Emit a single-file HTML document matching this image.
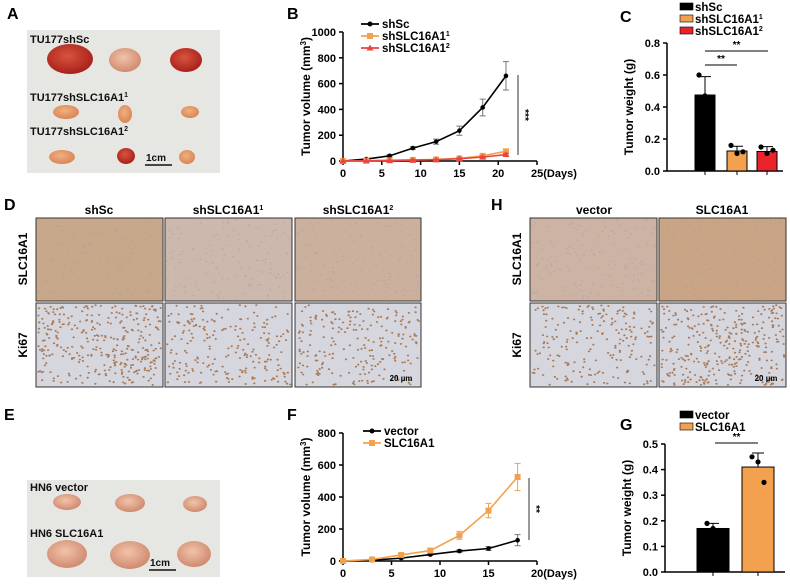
<!DOCTYPE html>
<html><head><meta charset="utf-8"><style>
body{margin:0;background:#fff}
svg{display:block;font-family:"Liberation Sans",Arial,sans-serif;font-weight:bold}
</style></head><body>
<svg id="fig" width="790" height="585" viewBox="0 0 790 585" xmlns="http://www.w3.org/2000/svg">
<defs>
<radialGradient id="tRed" cx="45%" cy="40%" r="60%"><stop offset="0" stop-color="#d8553f"/><stop offset="1" stop-color="#a8201a"/></radialGradient>
<radialGradient id="tOr" cx="45%" cy="40%" r="60%"><stop offset="0" stop-color="#f0b080"/><stop offset="1" stop-color="#d98556"/></radialGradient>
<radialGradient id="tPk" cx="45%" cy="40%" r="60%"><stop offset="0" stop-color="#f2c4a8"/><stop offset="1" stop-color="#cf8a70"/></radialGradient>
</defs>
<g id="labels" font-size="16">
<text x="7" y="19">A</text>
<text x="287" y="19">B</text>
<text x="620" y="22">C</text>
<text x="4" y="210">D</text>
<text x="491" y="210">H</text>
<text x="4" y="420">E</text>
<text x="287" y="420">F</text>
<text x="620" y="430">G</text>
</g>
<g id="photoA">
<rect x="27" y="30" width="193" height="143" fill="#e6e6e3"/>
<ellipse cx="70" cy="59" rx="23" ry="15" fill="url(#tRed)"/>
<ellipse cx="125" cy="60" rx="16" ry="12" fill="url(#tPk)"/>
<ellipse cx="186" cy="60" rx="16" ry="12" fill="url(#tRed)"/>
<text x="30" y="43" font-size="11" fill="#111">TU177shSc</text>
<ellipse cx="66" cy="112" rx="13" ry="7" fill="url(#tOr)"/>
<ellipse cx="125" cy="114" rx="7" ry="9" fill="url(#tOr)"/>
<ellipse cx="190" cy="112" rx="9" ry="6" fill="url(#tOr)"/>
<text x="30" y="101" font-size="11" fill="#111">TU177shSLC16A1<tspan font-size="7" dy="-4">1</tspan></text>
<ellipse cx="62" cy="157" rx="13" ry="7" fill="url(#tOr)"/>
<ellipse cx="126" cy="156" rx="9" ry="8" fill="url(#tRed)"/>
<ellipse cx="187" cy="157" rx="8" ry="7" fill="url(#tOr)"/>
<text x="30" y="135" font-size="11" fill="#111">TU177shSLC16A1<tspan font-size="7" dy="-4">2</tspan></text>
<text x="146" y="161" font-size="10" fill="#111">1cm</text>
<line x1="145" y1="165" x2="172" y2="165" stroke="#111" stroke-width="1.5"/>
</g>
<g id="photoE">
<rect x="27" y="480" width="193" height="97" fill="#e6e6e3"/>
<ellipse cx="67" cy="502" rx="14" ry="8" fill="url(#tPk)"/>
<ellipse cx="130" cy="503" rx="15" ry="9" fill="url(#tPk)"/>
<ellipse cx="195" cy="504" rx="12" ry="8" fill="url(#tPk)"/>
<text x="30" y="491" font-size="11" fill="#111">HN6 vector</text>
<ellipse cx="67" cy="554" rx="20" ry="14" fill="url(#tPk)"/>
<ellipse cx="130" cy="555" rx="20" ry="14" fill="url(#tPk)"/>
<ellipse cx="194" cy="554" rx="17" ry="13" fill="url(#tPk)"/>
<text x="30" y="537" font-size="11" fill="#111">HN6 SLC16A1</text>
<text x="150" y="566" font-size="10" fill="#111">1cm</text>
<line x1="149" y1="570" x2="176" y2="570" stroke="#111" stroke-width="1.5"/>
</g>
<g id="ihc"></g>
<g id="charts"></g>
</svg>
<script>
// ---- Panel B data ----
const bDays=[0,3,6,9,12,15,18,21];
const bShSc=[0,15,40,100,150,235,415,660];
const bShScErr=[0,5,8,10,20,35,65,110];
const bSh1=[0,2,5,8,12,20,40,75];
const bSh1Err=[0,2,3,4,5,6,10,15];
const bSh2=[0,2,4,7,10,18,30,50];
const bSh2Err=[0,2,3,4,5,6,8,10];
const bTicksY=[0,200,400,600,800,1000];
const bTicksX=[0,5,10,15,20,25];
// ---- Panel C data ----
const cGroups=["shSc","shSLC16A1¹","shSLC16A1²"];
const cMeans=[0.475,0.125,0.122];
const cErr=[0.115,0.03,0.03];
const cPoints=[[0.6,0.47,0.36],[0.16,0.11,0.12],[0.15,0.11,0.13]];
const cTicksY=[0,0.2,0.4,0.6,0.8];
// ---- Panel F data ----
const fDays=[0,3,6,9,12,15,18];
const fVector=[0,5,18,40,62,78,130];
const fVectorErr=[0,3,5,6,8,12,35];
const fSLC=[0,10,38,65,160,315,525];
const fSLCErr=[0,5,8,10,25,45,85];
const fTicksY=[0,200,400,600,800];
const fTicksX=[0,5,10,15,20];
// ---- Panel G data ----
const gGroups=["vector","SLC16A1"];
const gMeans=[0.17,0.41];
const gErr=[0.02,0.055];
const gPoints=[[0.19,0.17,0.16],[0.45,0.43,0.35]];
const gTicksY=[0,0.1,0.2,0.3,0.4,0.5];

const NS="http://www.w3.org/2000/svg";
const charts=document.getElementById('charts');
function mk(tag,attrs,parent,txt){const e=document.createElementNS(NS,tag);for(const k in attrs)e.setAttribute(k,attrs[k]);if(txt!==undefined)e.textContent=txt;(parent||charts).appendChild(e);return e;}
function lin(d0,d1,r0,r1){return v=>r0+(v-d0)/(d1-d0)*(r1-r0);}

function lineChart(o){
  const g=mk('g',{});
  
  
  const x=lin(0,o.xMax,o.x0,o.x1), y=lin(0,o.yMax,o.y0,o.y1);
  const ax=mk('path',{d:`M${o.x0},${o.y1}V${o.y0}H${o.x1}`,stroke:'#000','stroke-width':1.5,fill:'none'},g);
  
  
  o.ticksY.forEach(t=>{mk('line',{x1:o.x0-4,x2:o.x0,y1:y(t),y2:y(t),stroke:'#000','stroke-width':1.5},g);
    const tl=mk('text',{x:o.x0-7,y:y(t)+4,'font-size':11,'text-anchor':'end'},g,t);
    
    });
  o.ticksX.forEach((t,i)=>{mk('line',{x1:x(t),x2:x(t),y1:o.y0,y2:o.y0+4,stroke:'#000','stroke-width':1.5},g);
    const tl=mk('text',{x:x(t),y:o.y0+16,'font-size':11,'text-anchor':i==o.ticksX.length-1?'start':'middle',dx:i==o.ticksX.length-1?-6:0},g,t+(i==o.ticksX.length-1?'(Days)':''));
    
    });
  const yt=mk('text',{transform:`translate(${o.x0-33},${(o.y0+o.y1)/2}) rotate(-90)`,'font-size':12,'text-anchor':'middle'},g);
  yt.innerHTML='Tumor volume (mm<tspan font-size="8" dy="-4">3</tspan><tspan dy="4">)</tspan>';
  
  
  o.series.forEach(s=>{
    const sg=mk('g',{},g);
    
    
    s.vals.forEach((v,i)=>{if(s.err[i]>0){const px=x(o.days[i]);
      mk('path',{d:`M${px},${y(v-s.err[i])}V${y(v+s.err[i])}M${px-3},${y(v-s.err[i])}h6M${px-3},${y(v+s.err[i])}h6`,stroke:s.ecol,'stroke-width':1,fill:'none'},sg);}});
    mk('polyline',{points:s.vals.map((v,i)=>x(o.days[i])+','+y(v)).join(' '),stroke:s.col,'stroke-width':1.6,fill:'none'},sg);
    s.vals.forEach((v,i)=>{const px=x(o.days[i]),py=y(v);
      if(s.m=='c')mk('circle',{cx:px,cy:py,r:2.3,fill:s.col},sg);
      else if(s.m=='s')mk('rect',{x:px-3,y:py-3,width:6,height:6,fill:s.col},sg);
      else mk('path',{d:`M${px},${py-3.5}L${px+3.5},${py+2.5}H${px-3.5}Z`,fill:s.col},sg);});
  });
  o.legend.forEach((l,i)=>{const ly=o.ly+i*12, lx=o.lx;
    const lg=mk('g',{},g);
    
    
    mk('line',{x1:lx,x2:lx+18,y1:ly,y2:ly,stroke:l.col,'stroke-width':1.8},lg);
    if(l.m=='c')mk('circle',{cx:lx+9,cy:ly,r:2.5,fill:l.col},lg);
    else if(l.m=='s')mk('rect',{x:lx+6,y:ly-3,width:6,height:6,fill:l.col},lg);
    else mk('path',{d:`M${lx+9},${ly-3.5}l3.5,6h-7z`,fill:l.col},lg);
    const t=mk('text',{x:lx+21,y:ly+4,'font-size':11.5},lg);t.innerHTML=l.t;});
  mk('line',{x1:o.sigX,x2:o.sigX,y1:o.sigY0,y2:o.sigY1,stroke:'#333','stroke-width':1},g);
  mk('text',{transform:`translate(${o.sigX+4},${(o.sigY0+o.sigY1)/2}) rotate(90)`,'font-size':10,'text-anchor':'middle'},g,o.sig);
}

lineChart({name:'chart-b-tumor-volume',x0:343,x1:537,y0:161,y1:32,xMax:25,yMax:1000,days:bDays,ticksY:bTicksY,ticksX:bTicksX,
 series:[{key:'shSc',vals:bShSc,err:bShScErr,col:'#000',ecol:'#777',m:'c'},{key:'sh1',vals:bSh1,err:bSh1Err,col:'#f4a14f',ecol:'#f4a14f',m:'s'},{key:'sh2',vals:bSh2,err:bSh2Err,col:'#e8473f',ecol:'#e8473f',m:'t'}],
 legend:[{t:'shSc',col:'#000',m:'c'},{t:'shSLC16A1<tspan font-size="7" dy="-4">1</tspan>',col:'#f4a14f',m:'s'},{t:'shSLC16A1<tspan font-size="7" dy="-4">2</tspan>',col:'#e8473f',m:'t'}],
 lx:361,ly:24,sigX:518,sigY0:75,sigY1:155,sig:'***'});
lineChart({name:'chart-f-tumor-volume',x0:343,x1:537,y0:561,y1:433,xMax:20,yMax:800,days:fDays,ticksY:fTicksY,ticksX:fTicksX,
 series:[{key:'vector',vals:fVector,err:fVectorErr,col:'#000',ecol:'#777',m:'c'},{key:'SLC16A1',vals:fSLC,err:fSLCErr,col:'#f4a14f',ecol:'#f4a14f',m:'s'}],
 legend:[{t:'vector',col:'#000',m:'c'},{t:'SLC16A1',col:'#f4a14f',m:'s'}],
 lx:363,ly:431,sigX:529,sigY0:478,sigY1:540,sig:'**'});

function barChart(o){
  const g=mk('g',{});
  
  
  const y=lin(0,o.yMax,o.y0,o.y1);
  mk('path',{d:`M${o.x0},${o.y1}V${o.y0}H${o.x1}`,stroke:'#000','stroke-width':1.5,fill:'none'},g);
  o.ticksY.forEach(t=>{mk('line',{x1:o.x0-4,x2:o.x0,y1:y(t),y2:y(t),stroke:'#000','stroke-width':1.5},g);
    const tl=mk('text',{x:o.x0-7,y:y(t)+4,'font-size':11,'text-anchor':'end'},g,t.toFixed(1));
    
    });
  const yt=mk('text',{transform:`translate(${o.x0-34},${(o.y0+o.y1)/2}) rotate(-90)`,'font-size':12,'text-anchor':'middle'},g,'Tumor weight (g)');
  
  
  o.means.forEach((m,i)=>{const cx=o.cx[i];
    const b=mk('rect',{x:cx-o.bw/2,y:y(m),width:o.bw,height:o.y0-y(m),fill:o.cols[i],stroke:'#000','stroke-width':1},g);
    
    
    mk('path',{d:`M${cx},${y(m)}V${y(m+o.err[i])}M${cx-6},${y(m+o.err[i])}h12M${cx},${o.y0}v4`,stroke:'#000','stroke-width':1,fill:'none'},g);
    o.points[i].forEach((p,j)=>mk('circle',{cx:cx+(j-1)*6,cy:y(p),r:2.6,fill:'#000'},g));
  });
  o.legend.forEach((l,i)=>{const ly=o.ly+i*12;
    const lg=mk('g',{},g);
    
    
    mk('rect',{x:o.lx,y:ly-4,width:13,height:7,fill:o.cols[i],stroke:'#000','stroke-width':0.6},lg);
    const t=mk('text',{x:o.lx+15,y:ly+4,'font-size':11.5},lg);t.innerHTML=l;});
  o.sigs.forEach(s=>{mk('line',{x1:s[0],x2:s[1],y1:s[2],y2:s[2],stroke:'#000','stroke-width':1},g);
    mk('text',{x:(s[0]+s[1])/2,y:s[2]-3,'font-size':10,'text-anchor':'middle'},g,'**');});
}
barChart({name:'chart-c-tumor-weight',x0:667,x1:783,y0:171,y1:43,yMax:0.8,ticksY:cTicksY,means:cMeans,err:cErr,points:cPoints,
 cx:[705,737,767],bw:20,cols:['#000','#f4a14f','#e8232a'],
 legend:['shSc','shSLC16A1<tspan font-size="7" dy="-4">1</tspan>','shSLC16A1<tspan font-size="7" dy="-4">2</tspan>'],lx:680,ly:7,
 sigs:[[705,737,65],[705,768,51]]});
barChart({name:'chart-g-tumor-weight',x0:665,x1:785,y0:572,y1:444,yMax:0.5,ticksY:gTicksY,means:gMeans,err:gErr,points:gPoints,
 cx:[713,758],bw:32,cols:['#000','#f4a14f'],
 legend:['vector','SLC16A1'],lx:680,ly:415,sigs:[[715,758,443]]});

// ---- IHC panels (texture) ----
const ihc=document.getElementById('ihc');
let seed=7;function rnd(){seed=(seed*16807)%2147483647;return seed/2147483647;}
function tile(x,y,w,h,bg,dot,n,dotR,op,name,bar){
  const g=mk('g',{},ihc);
  
  
  mk('rect',{x,y,width:w,height:h,fill:bg},g);
  let d='';for(let i=0;i<n;i++){const px=x+2+rnd()*(w-4),py=y+2+rnd()*(h-4);d+=`M${px.toFixed(1)},${py.toFixed(1)}h0.5`;}
  mk('path',{d,stroke:dot,'stroke-width':dotR,'stroke-linecap':'round',fill:'none',opacity:op},g);
  mk('rect',{x,y,width:w,height:h,fill:'none',stroke:'#333','stroke-width':1},g);
  if(bar){mk('text',{x:x+w-20,y:y+h-6,'font-size':8,'text-anchor':'middle'},g,'20 µm');}
}
const rows=[[218,83],[303,84]];
const dCols=[[36,127],[165,127],[295,126]], hCols=[[530,127],[659,127]];
const slcBg=['#c8a88a','#cdb8ad','#cbb19d'], hSlcBg=['#ccb3a3','#caa585'];
dCols.forEach((c,i)=>{tile(c[0],rows[0][0],c[1],rows[0][1],slcBg[i],'#a898aa',140,1.3,0.5,'ihc-d-slc16a1-'+i);
  tile(c[0],rows[1][0],c[1],rows[1][1],'#d6d6df','#9a5c2a',i==0?330:220,1.8,0.75,'ihc-d-ki67-'+i,i==2);});
hCols.forEach((c,i)=>{tile(c[0],rows[0][0],c[1],rows[0][1],hSlcBg[i],'#a898aa',140,1.3,0.5,'ihc-h-slc16a1-'+i);
  tile(c[0],rows[1][0],c[1],rows[1][1],'#d6d6df','#9a5c2a',i==0?200:320,1.8,0.75,'ihc-h-ki67-'+i,i==1);});
const hdr=[['shSc',99],['shSLC16A1<tspan font-size="7" dy="-4">1</tspan>',228],['shSLC16A1<tspan font-size="7" dy="-4">2</tspan>',358],['vector',594],['SLC16A1',722]];
hdr.forEach(h=>{const t=mk('text',{x:h[1],y:214,'font-size':12,'text-anchor':'middle'},ihc);t.innerHTML=h[0];
  
  });
[[27,'SLC16A1',259],[27,'Ki67',345],[521,'SLC16A1',259],[521,'Ki67',345]].forEach(r=>{
  const t=mk('text',{transform:`translate(${r[0]},${r[2]}) rotate(-90)`,'font-size':12,'text-anchor':'middle'},ihc,r[1]);
  
  });
</script>
</body></html>
